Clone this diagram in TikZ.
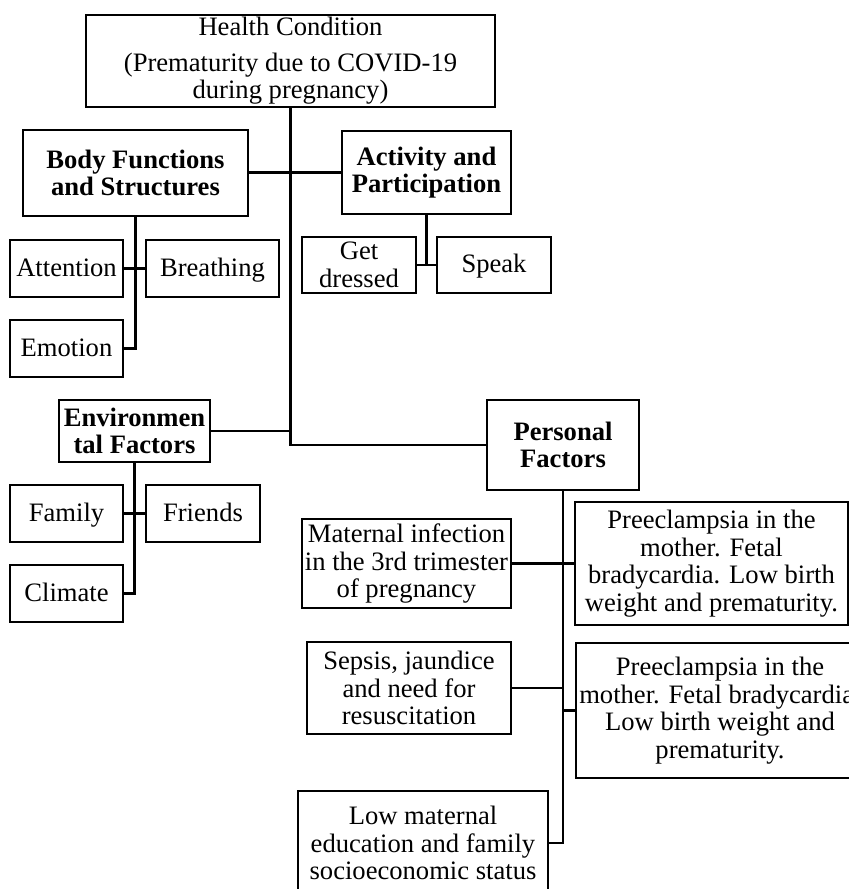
\documentclass[tikz,border=0pt]{standalone}
\usepackage{fontspec}
\setmainfont{Liberation Serif}

\tikzset{every picture/.style={line width=0.75pt}}
\tikzset{
  box/.style={draw, line width=1.1pt, align=center, inner sep=0.75pt, font=\fontsize{13.3}{13.8}\selectfont},
  single/.style={box, text height=10pt, text depth=2.5pt},
  link/.style={line width=1.1pt},
  trunk/.style={line width=1.4pt}
}

\begin{document}
\begin{tikzpicture}[x=0.5pt,y=0.5pt,yscale=-1,xscale=1]
\useasboundingbox (0,0) rectangle (849,889);

%Flowchart: Process [health]
\node [box, inner ysep=0pt, minimum width=204.5pt, minimum height=46pt] (health) at (290.5,61) {Health Condition\\[4pt](Prematurity due to COVID-19\\during pregnancy)};
%Flowchart: Process [components]
\node [box, minimum width=112.5pt, minimum height=43pt] (bodyfn) at (135.5,173) {\textbf{Body Functions}\\\textbf{and Structures}};
\node [box, minimum width=84.5pt, minimum height=41.5pt] (activity) at (426.5,172.5) {\textbf{Activity and}\\\textbf{Participation}};
\node [box, minimum width=75.5pt, minimum height=31pt] (envir) at (134.5,431) {\textbf{Environmen}\\\textbf{tal Factors}};
\node [box, minimum width=76pt, minimum height=45pt] (personal) at (563,445) {\textbf{Personal}\\\textbf{Factors}};

%Flowchart: Process [body functions]
\node [single, minimum width=56.5pt, minimum height=28.5pt] (attention) at (66.5,268.5) {Attention};
\node [single, minimum width=66.5pt, minimum height=28.5pt] (breathing) at (212.5,268.5) {Breathing};
\node [single, minimum width=56.5pt, minimum height=28.5pt] (emotion) at (66.5,348.5) {Emotion};

%Flowchart: Process [activity]
\node [box, minimum width=57pt, minimum height=28pt] (dressed) at (359,265) {Get\\dressed};
\node [single, minimum width=57pt, minimum height=28pt] (speak) at (494,265) {Speak};

%Flowchart: Process [environment]
\node [single, minimum width=56.5pt, minimum height=28.5pt] (family) at (66.5,513.5) {Family};
\node [single, minimum width=57pt, minimum height=28.5pt] (friends) at (203,513.5) {Friends};
\node [single, minimum width=56.5pt, minimum height=28.5pt] (climate) at (66.5,593.5) {Climate};

%Flowchart: Process [personal]
\node [box, minimum width=104.5pt, minimum height=44.5pt] (maternal) at (406.5,563.5) {Maternal infection\\in the 3rd trimester\\of pregnancy};
\node [box, minimum width=136.5pt, minimum height=61.5pt] (preeclone) at (711.5,563.5) {Preeclampsia in the\\mother. Fetal\\bradycardia. Low birth\\weight and prematurity.};
\node [box, minimum width=102pt, minimum height=46pt] (sepsis) at (409,688) {Sepsis, jaundice\\and need for\\resuscitation};
\node [box, minimum width=144pt, minimum height=67.5pt] (preecltwo) at (720,710.5) {Preeclampsia in the\\mother. Fetal bradycardia.\\Low birth weight and\\prematurity.};
\node [box, minimum width=125pt, minimum height=52pt] (lowmat) at (423,843) {Low maternal\\education and family\\socioeconomic status};

%Straight Lines [trunk]
\draw [trunk] (health.south) -- (health.south |- personal.west) -- (personal.west);
\draw [link] (bodyfn.east |- activity.west) -- (activity.west);
\draw [link] (envir.east) -- (envir.east -| health.south);

%Straight Lines [body functions]
\draw [trunk] (bodyfn.south) |- (emotion.east);
\draw [link] (attention.east) -- (breathing.west);

%Straight Lines [activity]
\draw [trunk] (activity.south) -- (activity.south |- speak.west);
\draw [link] (dressed.east) -- (speak.west);

%Straight Lines [environment]
\draw [trunk] (envir.south) |- (climate.east);
\draw [link] (family.east) -- (friends.west);

%Straight Lines [personal]
\draw [trunk] (personal.south) |- (lowmat.east);
\draw [link] (maternal.east) -- (preeclone.west);
\draw [link] (sepsis.east) -- (sepsis.east -| personal.south);
\draw [link] (personal.south |- preecltwo.west) -- (preecltwo.west);

\end{tikzpicture}
\end{document}
